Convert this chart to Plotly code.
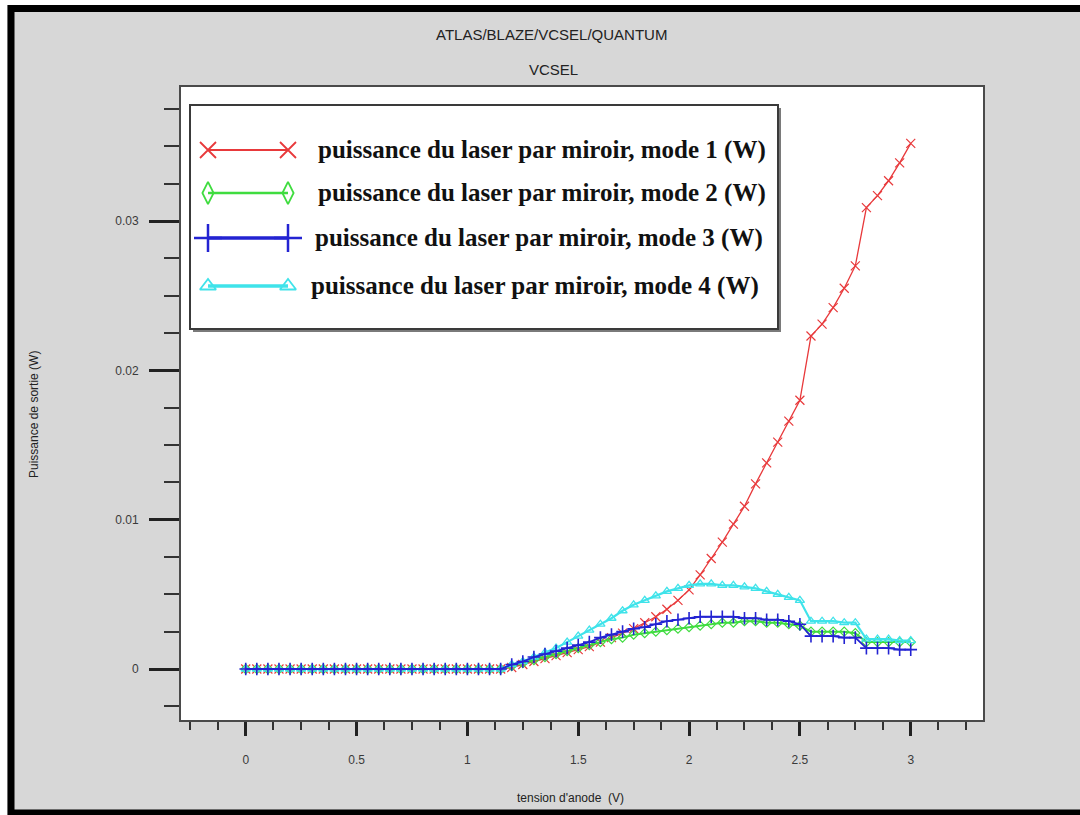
import plotly.graph_objects as go

# ---------------- data ----------------
voltage = [0.0, 0.05, 0.1, 0.15, 0.2, 0.25, 0.3, 0.35, 0.4, 0.45,
           0.5, 0.55, 0.6, 0.65, 0.7, 0.75, 0.8, 0.85, 0.9, 0.95,
           1.0, 1.05, 1.1, 1.15, 1.2, 1.25, 1.3, 1.35, 1.4, 1.45,
           1.5, 1.55, 1.6, 1.65, 1.7, 1.75, 1.8, 1.85, 1.9, 1.95,
           2.0, 2.05, 2.1, 2.15, 2.2, 2.25, 2.3, 2.35, 2.4, 2.45,
           2.5, 2.55, 2.6, 2.65, 2.7, 2.75, 2.8, 2.85, 2.9, 2.95, 3.0]

mode1 = [0, 0, 0, 0, 0, 0, 0, 0, 0, 0,
         0, 0, 0, 0, 0, 0, 0, 0, 0, 0,
         0, 0, 0, 0, 0.0001, 0.0003, 0.0005, 0.0007, 0.0009, 0.0011,
         0.0013, 0.0015, 0.0018, 0.0021, 0.0024, 0.0027, 0.0031, 0.0035, 0.0040, 0.0046,
         0.0053, 0.0063, 0.0074, 0.0085, 0.0097, 0.0109, 0.0124, 0.0138, 0.0152, 0.0166,
         0.0180, 0.0223, 0.0231, 0.0242, 0.0255, 0.0270, 0.0309, 0.0317, 0.0327, 0.0339, 0.0352]

mode2 = [0, 0, 0, 0, 0, 0, 0, 0, 0, 0,
         0, 0, 0, 0, 0, 0, 0, 0, 0, 0,
         0, 0, 0, 0, 0.0002, 0.0004, 0.0006, 0.0008, 0.0010, 0.0012,
         0.0014, 0.0016, 0.0018, 0.0020, 0.0021, 0.0023, 0.0024, 0.0025, 0.0026, 0.0027,
         0.0028, 0.0029, 0.0030, 0.0031, 0.0031, 0.0032, 0.0032, 0.0031, 0.0031, 0.0030,
         0.0029, 0.0025, 0.0025, 0.0025, 0.0025, 0.0024, 0.0018, 0.0018, 0.0018, 0.0018, 0.0018]

mode3 = [0, 0, 0, 0, 0, 0, 0, 0, 0, 0,
         0, 0, 0, 0, 0, 0, 0, 0, 0, 0,
         0, 0, 0, 0, 0.0003, 0.0005, 0.0008, 0.0010, 0.0012, 0.0014,
         0.0016, 0.0018, 0.0021, 0.0023, 0.0025, 0.0027, 0.0028, 0.0030, 0.0032, 0.0033,
         0.0034, 0.0035, 0.0035, 0.0035, 0.0035, 0.0034, 0.0034, 0.0033, 0.0033, 0.0032,
         0.0030, 0.0022, 0.0022, 0.0022, 0.0021, 0.0021, 0.0014, 0.0014, 0.0014, 0.0013, 0.0013]

mode4 = [0, 0, 0, 0, 0, 0, 0, 0, 0, 0,
         0, 0, 0, 0, 0, 0, 0, 0, 0, 0,
         0, 0, 0, 0, 0.0003, 0.0005, 0.0008, 0.0011, 0.0014, 0.0018,
         0.0022, 0.0026, 0.0030, 0.0034, 0.0039, 0.0043, 0.0046, 0.0049, 0.0052, 0.0054,
         0.0056, 0.0057, 0.0057, 0.0056, 0.0056, 0.0055, 0.0054, 0.0052, 0.0050, 0.0048,
         0.0046, 0.0032, 0.0032, 0.0032, 0.0031, 0.0031, 0.0020, 0.0020, 0.0020, 0.0019, 0.0019]

legend_labels = ["puissance du laser par miroir, mode 1 (W)",
                 "puissance du laser par miroir, mode 2 (W)",
                 "puissance du laser par miroir, mode 3 (W)",
                 "puissance du laser par miroir, mode 4 (W)"]

x_ticks = [0, 0.5, 1, 1.5, 2, 2.5, 3]
x_ticktext = ["0", "0.5", "1", "1.5", "2", "2.5", "3"]
y_ticks = [0, 0.01, 0.02, 0.03]
y_ticktext = ["0", "0.01", "0.02", "0.03"]

# ---------------- styles ----------------
RED = "#e8393b"
GREEN = "#3fdc3f"
BLUE = "#2323d2"
CYAN = "#3fe3ea"

W, H = 1080, 815
L, R, T, B = 181, 983, 87, 720  # plot area in pixels


def px(x):
    return (x - L) / (R - L)


def py(y):
    return (B - y) / (B - T)


fig = go.Figure()

series = [
    (mode1, RED, "x-thin-open", 9, 1.3, 1.2),
    (mode2, GREEN, "diamond-open", 7, 2.0, 1.2),
    (mode4, CYAN, "triangle-up-open", 8, 2.2, 1.3),
    (mode3, BLUE, "cross-thin-open", 9, 1.8, 1.6),
]
for vals, col, sym, size, lw, mlw in series:
    fig.add_trace(go.Scatter(
        x=voltage, y=vals, mode="lines+markers",
        line=dict(color=col, width=lw),
        marker=dict(symbol=sym, size=size, color=col, line=dict(color=col, width=mlw)),
        showlegend=False, hoverinfo="skip", xaxis="x", yaxis="y"))

# ---------------- custom legend ----------------
leg_x0, leg_x1, leg_y0, leg_y1 = 190, 778, 105, 329
fig.add_shape(type="rect", xref="paper", yref="paper",
              x0=px(leg_x0 + 3), x1=px(leg_x1 + 3), y0=py(leg_y0 + 3), y1=py(leg_y1 + 3),
              fillcolor="#7a7a7a", line=dict(width=0), layer="below")
fig.add_shape(type="rect", xref="paper", yref="paper",
              x0=px(leg_x0), x1=px(leg_x1), y0=py(leg_y0), y1=py(leg_y1),
              fillcolor="white", line=dict(color="#3a3a3a", width=2), layer="below")

leg_rows_y = [150, 193, 238, 286]
leg_text_x = [316, 316, 313, 309]
leg_styles = [
    (RED, "x-thin-open", 16, 2.0, 1.8),
    (GREEN, "diamond-tall-open", 16, 2.5, 1.8),
    (BLUE, "cross-thin-open", 20, 3.5, 2.5),
    (CYAN, "triangle-up-open", 14, 3.5, 1.8),
]
for i, (col, sym, size, lw, mlw) in enumerate(leg_styles):
    yy = leg_rows_y[i]
    fig.add_trace(go.Scatter(
        x=[208, 288], y=[yy, yy], mode="lines+markers",
        line=dict(color=col, width=lw),
        marker=dict(symbol=sym, size=size, color=col, line=dict(color=col, width=mlw)),
        showlegend=False, hoverinfo="skip", xaxis="x2", yaxis="y2"))
    fig.add_annotation(x=leg_text_x[i], y=yy, xref="x2", yref="y2",
                       text="<b>" + legend_labels[i] + "</b>",
                       showarrow=False, xanchor="left", yanchor="middle",
                       font=dict(family="Liberation Serif", size=25, color="#111"))

# ---------------- titles ----------------
title_font = dict(family="Liberation Sans", size=15, color="#222")
fig.add_annotation(x=px(551), y=py(35), xref="paper", yref="paper", text="ATLAS/BLAZE/VCSEL/QUANTUM",
                   showarrow=False, font=title_font, xanchor="center", yanchor="middle")
fig.add_annotation(x=px(553), y=py(70), xref="paper", yref="paper", text="VCSEL",
                   showarrow=False, font=title_font, xanchor="center", yanchor="middle")
axis_font = dict(family="Liberation Sans", size=12, color="#222")
fig.add_annotation(x=px(570), y=py(798), xref="paper", yref="paper", text="tension d'anode&nbsp;&nbsp;(V)",
                   showarrow=False, font=axis_font, xanchor="center", yanchor="middle")
fig.add_annotation(x=px(34), y=py(415), xref="paper", yref="paper", text="Puissance de sortie (W)",
                   showarrow=False, font=axis_font, xanchor="center", yanchor="middle", textangle=-90)

# ---------------- frame decorations ----------------
fig.add_shape(type="rect", xref="paper", yref="paper", x0=px(11), x1=px(1090), y0=py(8.5), y1=py(813),
              line=dict(color="black", width=7), fillcolor="rgba(0,0,0,0)", layer="below")
fig.add_shape(type="rect", xref="paper", yref="paper", x0=px(-5), x1=px(1090), y0=py(-5), y1=py(5),
              line=dict(width=0), fillcolor="white", layer="below")
fig.add_shape(type="rect", xref="paper", yref="paper", x0=px(-5), x1=px(7), y0=py(-5), y1=py(820),
              line=dict(width=0), fillcolor="white", layer="below")

tickfont = dict(family="Liberation Sans", size=12, color="#3a3a3a")
fig.update_layout(
    width=W, height=H,
    margin=dict(l=L, r=W - R, t=T, b=H - B),
    paper_bgcolor="#d7d7d7", plot_bgcolor="white",
    showlegend=False,
    xaxis=dict(range=[-0.292, 3.326], tickmode="array", tickvals=x_ticks, ticktext=x_ticktext,
               showgrid=False, zeroline=False, showline=True, mirror=True,
               linecolor="#4a4a4a", linewidth=1.8,
               ticks="outside", ticklen=14, tickwidth=2.5, tickcolor="#222",
               tickfont=tickfont, ticklabelstandoff=14,
               minor=dict(dtick=0.125, tick0=0, ticks="outside", ticklen=8, tickwidth=1.5, tickcolor="#333")),
    yaxis=dict(range=[-0.003416, 0.03898], tickmode="array", tickvals=y_ticks, ticktext=y_ticktext,
               showgrid=False, zeroline=False, showline=True, mirror=True,
               linecolor="#4a4a4a", linewidth=1.8,
               ticks="outside", ticklen=30, tickwidth=2.5, tickcolor="#222",
               tickfont=tickfont, ticklabelstandoff=8,
               minor=dict(dtick=0.0025, tick0=0, ticks="outside", ticklen=15, tickwidth=1.5, tickcolor="#333")),
    xaxis2=dict(range=[L, R], overlaying="x", visible=False, fixedrange=True),
    yaxis2=dict(range=[B, T], overlaying="y", visible=False, fixedrange=True),
)

fig.write_html("out.html")
